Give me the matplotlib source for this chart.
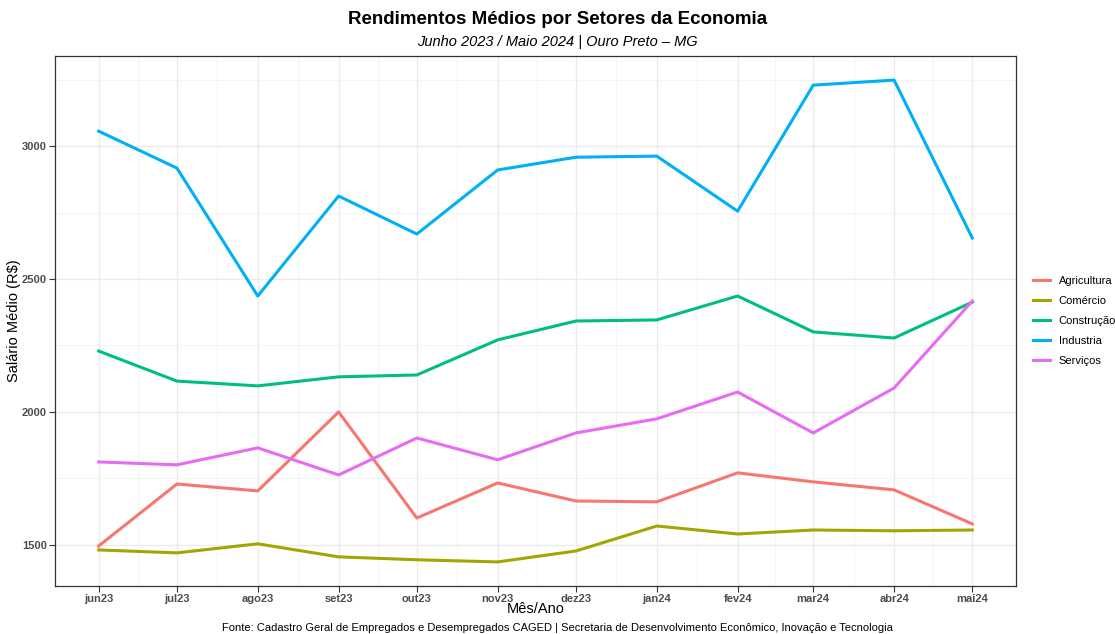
import numpy as np
import pandas as pd
import matplotlib
matplotlib.use("Agg")
import matplotlib.pyplot as plt
import matplotlib.dates as mdates

plt.rcParams['font.family'] = ['Liberation Sans', 'DejaVu Sans']

meses = pd.date_range("2023-06-01", "2024-05-01", freq="MS")
rotulos = ["jun23", "jul23", "ago23", "set23", "out23", "nov23",
           "dez23", "jan24", "fev24", "mar24", "abr24", "mai24"]

agricultura = [1496, 1729, 1703, 2000, 1601, 1733, 1665, 1662, 1771, 1737, 1707, 1579]
comercio = [1481, 1470, 1504, 1455, 1444, 1436, 1477, 1571, 1541, 1556, 1553, 1556]
construcao = [2229, 2116, 2098, 2132, 2139, 2271, 2342, 2346, 2436, 2301, 2278, 2413]
industria = [3056, 2917, 2436, 2812, 2669, 2910, 2958, 2962, 2755, 3229, 3248, 2654]
servicos = [1812, 1801, 1865, 1763, 1902, 1820, 1921, 1974, 2075, 1921, 2090, 2417]

setores = ["Agricultura", "Comércio", "Construção", "Industria", "Serviços"]
series = [agricultura, comercio, construcao, industria, servicos]
cores = ["#F8766D", "#A3A500", "#00BF7D", "#00B0F6", "#E76BF3"]

fig = plt.figure(figsize=(11.15, 6.34), dpi=100)
ax = fig.add_axes([55/1115, 1 - 586/634, (1016-55)/1115, (586-56)/634])

for nome, vals, cor in zip(setores, series, cores):
    ax.plot(meses, vals, color=cor, lw=2.2, label=nome)

ax.margins(x=0.05, y=0.05)
ax.set_xticks(meses)
ax.set_xticklabels(rotulos)
meios = meses[:-1] + (meses[1:] - meses[:-1]) / 2
ax.set_xticks(meios, minor=True)
ax.set_yticks([1500, 2000, 2500, 3000])
ax.set_yticks([1750, 2250, 2750, 3250], minor=True)

ax.grid(True, which='major', color='#EBEBEB', lw=1.0)
ax.grid(True, which='minor', color='#F2F2F2', lw=0.6)
ax.set_axisbelow(True)
for s in ax.spines.values():
    s.set_color('#333333')
    s.set_linewidth(0.9)
ax.tick_params(which='major', length=4, pad=2, color='#333333', labelsize=8, labelcolor='#4D4D4D')
ax.tick_params(which='minor', length=0)
for t in ax.get_xticklabels() + ax.get_yticklabels():
    t.set_fontweight('bold')

ax.set_xlabel("Mês/Ano", fontsize=10.5, va='center')
ax.xaxis.set_label_coords(0.5, -23/530)
ax.set_ylabel("Salário Médio (R$)", fontsize=10.5, va='center')
ax.yaxis.set_label_coords((14-55)/961, 0.5)

fig.text(0.5, 1 - 20/634, "Rendimentos Médios por Setores da Economia",
         ha='center', va='center', fontsize=13.5, fontweight='bold')
fig.text(0.5, 1 - 42/634, "Junho 2023 / Maio 2024 | Ouro Preto – MG",
         ha='center', va='center', fontsize=10.5, style='italic')
fig.text(0.5, 1 - 628/634,
         "Fonte: Cadastro Geral de Empregados e Desempregados CAGED | Secretaria de Desenvolvimento Econômico, Inovação e Tecnologia",
         ha='center', va='center', fontsize=8)

fig.legend(loc='center left', bbox_to_anchor=(1033/1115, 1 - 321/634),
           frameon=False, fontsize=8, handlelength=1.5, handletextpad=0.8,
           labelspacing=0.9, borderpad=0, borderaxespad=0)

fig.savefig("out.png", dpi=100)
